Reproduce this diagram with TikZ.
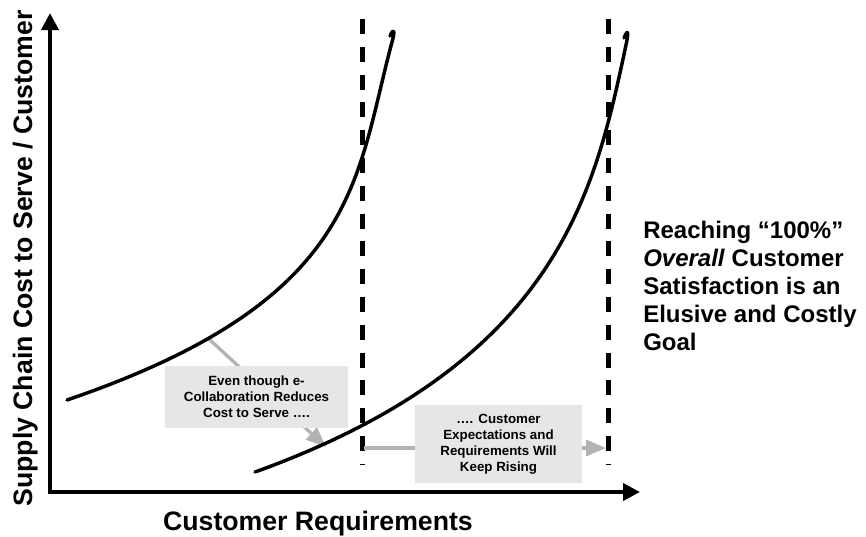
\documentclass[tikz,border=0pt]{standalone}
\usepackage{fontspec}
\setmainfont{Liberation Sans}
\usetikzlibrary{arrows.meta}
\definecolor{arrowgray}{HTML}{B3B3B3}
\definecolor{boxgray}{HTML}{E6E6E6}
\begin{document}
\begin{tikzpicture}[x=0.75pt,y=-0.75pt,
  axis/.style={line width=3pt,{Triangle[length=12.75pt,width=12.75pt]}-{Triangle[length=12.75pt,width=12.75pt]}},
  curve/.style={line width=2.6pt,line cap=round,line join=round},
  limit/.style={line width=3.75pt,dash pattern=on 11.25pt off 9.6pt},
  grayarrow/.style={draw=arrowgray,line width=2.5pt,-{Triangle[length=15pt,width=12pt]}},
  note/.style={fill=boxgray,font=\bfseries\fontsize{10}{12}\selectfont,align=center,inner sep=0pt},
  bigtext/.style={font=\bfseries\fontsize{20}{24}\selectfont,inner sep=0pt},
  sidetext/.style={font=\bfseries\fontsize{18}{21}\selectfont,inner sep=0pt,align=left}]
\useasboundingbox (0,0) rectangle (866,536);

% axes
\coordinate (ytop) at (50,13);
\coordinate (origin) at (50,492);
\coordinate (xend) at (640,492);
\draw[axis] (ytop) -- (origin) -- (xend);

% limit lines
\coordinate (d1t) at (362,19);
\coordinate (d1b) at (362,465);
\coordinate (d2t) at (608,19);
\coordinate (d2b) at (608,465);
\draw[limit] (d1t) -- (d1b);
\draw[limit] (d2t) -- (d2b);

% gray arrows
\coordinate (g1s) at (209,339);
\coordinate (g1e) at (326,447);
\coordinate (g2s) at (364,448);
\coordinate (g2e) at (606,448);
\draw[grayarrow] (g1s) -- (g1e);
\draw[grayarrow] (g2s) -- (g2e);

% curves
\coordinate (c1a) at (67,400);
\coordinate (c1b) at (392,42);
\coordinate (c1c) at (390,36);
\draw[curve] (c1a) .. controls (360,300) and (355,180) .. (c1b)
  .. controls (394.5,34) and (395,25) .. (c1c);
\coordinate (c2a) at (255,472);
\coordinate (c2b) at (626,45);
\coordinate (c2c) at (624,38);
\draw[curve] (c2a) .. controls (560,362) and (595,190) .. (c2b)
  .. controls (628,36) and (629,26) .. (c2c);

% notes
\node[note,minimum width=137.25pt,minimum height=46.5pt] (n1) at (256.5,397) {Even though e-\\Collaboration Reduces\\Cost to Serve ….};
\node[note,minimum width=125.25pt,minimum height=58.5pt] (n2) at (498.5,444) {…. Customer\\Expectations and\\Requirements Will\\Keep Rising};

% texts
\node[sidetext,anchor=north west] (goal) at (643,221) {Reaching “100\%”\\\textit{Overall} Customer\\Satisfaction is an\\Elusive and Costly\\Goal};
\node[bigtext,anchor=base] (xlab) at (318,530) {Customer Requirements};
\node[bigtext,rotate=90,anchor=base east] (ylab) at (32,10) {Supply Chain Cost to Serve / Customer};
\end{tikzpicture}
\end{document}
